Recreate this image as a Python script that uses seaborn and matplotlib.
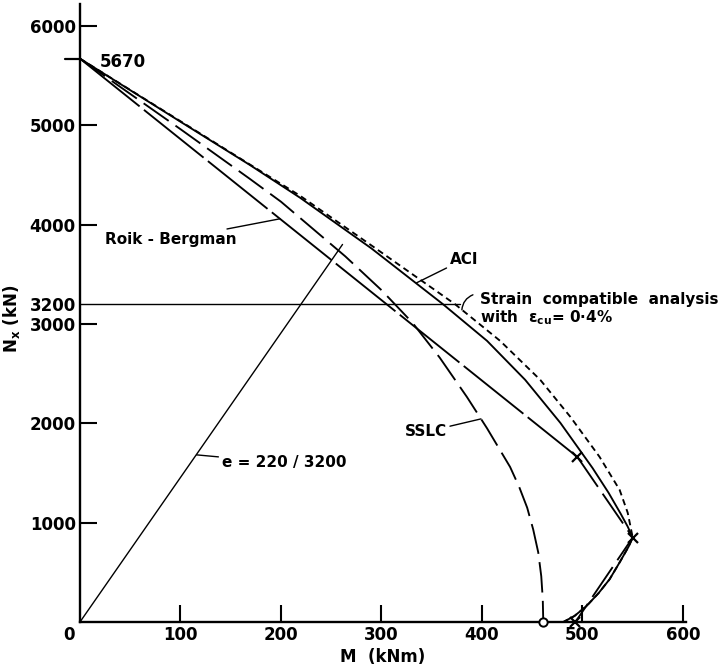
import matplotlib
matplotlib.use("Agg")
import matplotlib.pyplot as plt
import seaborn as sns
from matplotlib.transforms import ScaledTranslation

# ---- interaction curves: bending moment M (kNm) vs axial load N (kN) ----
squash_load = 5670

aci_M = [0, 100, 169, 219, 290, 361, 405, 443, 478, 510, 526, 538, 545, 550,
         546, 537, 527, 516, 504, 492, 481]
aci_N = [5670, 5035, 4600, 4270, 3760, 3200, 2830, 2437, 2004, 1550, 1300, 1090, 960, 850,
         760, 600, 430, 290, 160, 60, 0]

strain_M = [0, 100, 169, 219, 290, 373, 418, 458, 488, 517, 537, 545, 550,
            546, 537, 527, 516, 504, 492, 481]
strain_N = [5670, 5040, 4605, 4290, 3790, 3200, 2830, 2437, 2064, 1662, 1329, 1100, 850,
            760, 600, 430, 290, 160, 60, 0]

sslc_M = [0, 100, 169, 200, 264, 300, 331, 358, 385, 405, 428, 437, 445, 451, 456,
          459, 460.5, 461]
sslc_N = [5670, 4960, 4460, 4230, 3680, 3340, 3010, 2660, 2265, 1950, 1560, 1360, 1150, 930, 700,
          460, 230, 0]

# Roik-Bergman polygon: A -> C -> D -> B
rb_M = [0, 495, 550, 493]
rb_N = [5670, 1660, 850, 0]

# eccentricity line e = 220/3200 and the 3200 kN load level
ecc_M, ecc_N = 220, 3200
ecc_top_N = 3800
load_level = 3200
load_level_end_M = 378

x_ticks = [0, 100, 200, 300, 400, 500, 600]
y_ticks = [1000, 2000, 3000, 3200, 4000, 5000, 6000]

ink = "black"

sns.set_theme(style="ticks")
plt.rcParams["font.family"] = ["DejaVu Sans"]
plt.rcParams["font.weight"] = "bold"
plt.rcParams["mathtext.fontset"] = "dejavusans"
plt.rcParams["mathtext.default"] = "bf"
plt.rcParams["lines.scale_dashes"] = False
plt.rcParams["text.color"] = ink
plt.rcParams["axes.labelcolor"] = ink
plt.rcParams["xtick.color"] = ink
plt.rcParams["ytick.color"] = ink

fig = plt.figure(figsize=(7.18, 6.66), dpi=100)
fig.patch.set_facecolor("white")
ax = fig.add_axes([0.1114, 0.0661, 0.8440, 0.9279])
ax.set_facecolor("white")

lw = 1.35

sns.lineplot(x=aci_M, y=aci_N, sort=False, estimator=None, color=ink,
             linewidth=lw, ax=ax)
sns.lineplot(x=strain_M, y=strain_N, sort=False, estimator=None, color=ink,
             linewidth=lw, linestyle=(0, (4.5, 3)), ax=ax)
sns.lineplot(x=sslc_M, y=sslc_N, sort=False, estimator=None, color=ink,
             linewidth=lw, linestyle=(0, (22, 6)), ax=ax)
sns.lineplot(x=rb_M[:2], y=rb_N[:2], sort=False, estimator=None, color=ink,
             linewidth=lw, linestyle=(0, (55, 4)), ax=ax)
sns.lineplot(x=rb_M[1:], y=rb_N[1:], sort=False, estimator=None, color=ink,
             linewidth=lw, linestyle=(0, (26, 6)), ax=ax)

# Roik-Bergman polygon corners
ax.plot(rb_M[1:], rb_N[1:], linestyle="none", marker="x", markersize=7,
        markeredgewidth=1.6, color=ink, clip_on=False, zorder=5)
# SSLC pure bending point
ax.plot([sslc_M[-1]], [sslc_N[-1]], linestyle="none", marker="o", markersize=6,
        markerfacecolor="white", markeredgecolor=ink, markeredgewidth=1.4,
        clip_on=False, zorder=6)

# eccentricity line through the origin
ax.plot([0, ecc_top_N * ecc_M / ecc_N], [0, ecc_top_N], color=ink, linewidth=1.0)
# horizontal load level
ax.plot([0, load_level_end_M], [load_level, load_level], color=ink, linewidth=1.0)

# outward tick at the squash load
ax.plot([-0.025, 0], [squash_load, squash_load], color=ink, linewidth=1.6,
        transform=ax.get_yaxis_transform(), clip_on=False)

txt = dict(fontsize=11, fontweight="bold", color=ink, va="center")
lead = dict(arrowstyle="-", color=ink, linewidth=1.0, shrinkA=0, shrinkB=0)

ax.text(20, 5640, f"{squash_load}", fontsize=12, fontweight="bold", va="center",
        color=ink)

ax.annotate("Roik - Bergman", xy=(199, 4058), xytext=(25, 3847),
            arrowprops=lead, ha="left", **txt)
ax.annotate("ACI", xy=(335, 3414), xytext=(368, 3650),
            arrowprops=lead, ha="left", **txt)
ax.annotate("", xy=(380, 3142), xytext=(391, 3293),
            arrowprops=dict(lead, connectionstyle="arc3,rad=0.3"))
ax.text(398, 3243, "Strain  compatible  analysis", ha="left", **txt)
ax.text(398, 3068, "with  ε$_{cu}$= 0·4%", ha="left", **txt)
ax.annotate("SSLC", xy=(399, 2044), xytext=(323, 1913),
            arrowprops=lead, ha="left", **txt)
ax.annotate("e = 220 / 3200", xy=(116, 1682), xytext=(141, 1601),
            arrowprops=lead, ha="left", **txt)

ax.set_xlim(0, 603)
ax.set_ylim(0, 6220)
ax.set_xticks(x_ticks)
ax.set_yticks(y_ticks)
ax.set_xticklabels([str(v) for v in x_ticks])
ax.set_yticklabels([str(v) for v in y_ticks])
ax.tick_params(direction="in", length=12, width=1.5, labelsize=12, pad=3,
               colors=ink)
for lab in ax.get_xticklabels() + ax.get_yticklabels():
    lab.set_fontweight("bold")
# the 3200 level is marked by its own line, not a tick
ax.yaxis.get_major_ticks()[y_ticks.index(load_level)].tick1line.set_visible(False)
ax.xaxis.get_major_ticks()[0].tick1line.set_visible(False)
zero_lab = ax.get_xticklabels()[0]
zero_lab.set_transform(zero_lab.get_transform() + ScaledTranslation(-8 / 72, 0, fig.dpi_scale_trans))

sns.despine(ax=ax)
for side in ("left", "bottom"):
    ax.spines[side].set_linewidth(1.7)
    ax.spines[side].set_color(ink)

ax.set_xlabel("M  (kNm)", fontsize=12, fontweight="bold", labelpad=3)
ax.set_ylabel("N$_x$ (kN)", fontsize=12, fontweight="bold")
ax.yaxis.set_label_coords(-0.095, 0.49)
ax.grid(False)

fig.savefig("out.png", dpi=100, facecolor="white")
